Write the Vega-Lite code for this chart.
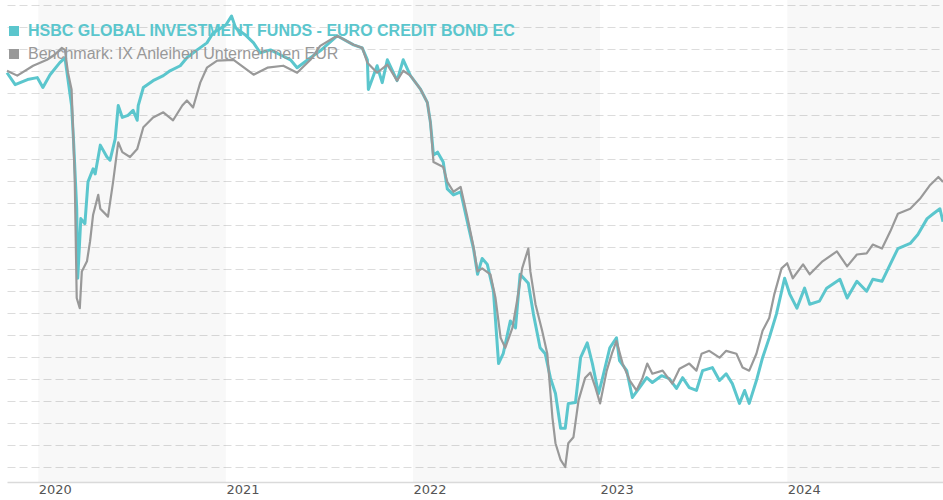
{
  "$schema": "https://vega.github.io/schema/vega-lite/v6.json",
  "width": 936,
  "height": 482,
  "autosize": "none",
  "padding": {"left": 7, "top": 0, "right": 0, "bottom": 18},
  "background": "white",
  "config": {"view": {"stroke": null}},
  "datasets": {
    "bands": [
      {"start": "2020-01-01", "end": "2021-01-01"},
      {"start": "2022-01-01", "end": "2023-01-01"},
      {"start": "2024-01-01", "end": "2024-10-31"}
    ],
    "fund": [
      {"date": "2019-11-01", "value": -0.08},
      {"date": "2019-11-17", "value": -0.62},
      {"date": "2019-12-11", "value": -0.39},
      {"date": "2019-12-30", "value": -0.30},
      {"date": "2020-01-10", "value": -0.75},
      {"date": "2020-01-24", "value": -0.17},
      {"date": "2020-02-12", "value": 0.38},
      {"date": "2020-02-22", "value": 0.60},
      {"date": "2020-02-28", "value": -0.39},
      {"date": "2020-03-06", "value": -1.57},
      {"date": "2020-03-10", "value": -3.24},
      {"date": "2020-03-16", "value": -6.26},
      {"date": "2020-03-18", "value": -9.42},
      {"date": "2020-03-24", "value": -6.71},
      {"date": "2020-04-01", "value": -6.94},
      {"date": "2020-04-07", "value": -5.04},
      {"date": "2020-04-17", "value": -4.45},
      {"date": "2020-04-21", "value": -4.68},
      {"date": "2020-05-01", "value": -3.37},
      {"date": "2020-05-14", "value": -3.91},
      {"date": "2020-05-20", "value": -4.05},
      {"date": "2020-05-30", "value": -3.10},
      {"date": "2020-06-05", "value": -1.57},
      {"date": "2020-06-13", "value": -2.11},
      {"date": "2020-06-24", "value": -2.02},
      {"date": "2020-07-04", "value": -1.79},
      {"date": "2020-07-12", "value": -2.24},
      {"date": "2020-07-14", "value": -1.57},
      {"date": "2020-07-24", "value": -0.75},
      {"date": "2020-08-12", "value": -0.44},
      {"date": "2020-09-01", "value": -0.21},
      {"date": "2020-09-14", "value": 0.01},
      {"date": "2020-10-04", "value": 0.24},
      {"date": "2020-10-17", "value": 0.60},
      {"date": "2020-11-06", "value": 0.96},
      {"date": "2020-11-25", "value": 1.28},
      {"date": "2020-12-07", "value": 1.73},
      {"date": "2021-01-01", "value": 2.09},
      {"date": "2021-01-12", "value": 2.50},
      {"date": "2021-01-20", "value": 1.96},
      {"date": "2021-02-08", "value": 1.64},
      {"date": "2021-02-24", "value": 1.28},
      {"date": "2021-03-09", "value": 0.83},
      {"date": "2021-03-29", "value": 0.96},
      {"date": "2021-04-17", "value": 0.74},
      {"date": "2021-05-07", "value": 0.51},
      {"date": "2021-05-20", "value": 0.15},
      {"date": "2021-06-15", "value": 0.60},
      {"date": "2021-07-04", "value": 0.92},
      {"date": "2021-08-06", "value": 1.60},
      {"date": "2021-09-07", "value": 1.19},
      {"date": "2021-09-24", "value": 1.05},
      {"date": "2021-10-04", "value": 0.51},
      {"date": "2021-10-06", "value": -0.84},
      {"date": "2021-10-23", "value": 0.24},
      {"date": "2021-11-02", "value": -0.53},
      {"date": "2021-11-12", "value": 0.51},
      {"date": "2021-12-01", "value": -0.44},
      {"date": "2021-12-13", "value": 0.51},
      {"date": "2021-12-27", "value": -0.21},
      {"date": "2022-01-16", "value": -0.84},
      {"date": "2022-01-29", "value": -1.43},
      {"date": "2022-02-04", "value": -2.33},
      {"date": "2022-02-10", "value": -3.82},
      {"date": "2022-02-18", "value": -3.69},
      {"date": "2022-03-01", "value": -4.14},
      {"date": "2022-03-09", "value": -5.36},
      {"date": "2022-03-21", "value": -5.63},
      {"date": "2022-04-04", "value": -5.49},
      {"date": "2022-04-17", "value": -6.85},
      {"date": "2022-04-29", "value": -8.07},
      {"date": "2022-05-07", "value": -9.24},
      {"date": "2022-05-16", "value": -8.52},
      {"date": "2022-05-26", "value": -8.79},
      {"date": "2022-06-07", "value": -10.01},
      {"date": "2022-06-17", "value": -13.30},
      {"date": "2022-06-26", "value": -12.85},
      {"date": "2022-07-10", "value": -11.36},
      {"date": "2022-07-20", "value": -11.68},
      {"date": "2022-07-29", "value": -9.24},
      {"date": "2022-08-14", "value": -9.65},
      {"date": "2022-08-24", "value": -11.05},
      {"date": "2022-09-06", "value": -12.58},
      {"date": "2022-09-16", "value": -12.85},
      {"date": "2022-09-26", "value": -13.94},
      {"date": "2022-10-06", "value": -14.66},
      {"date": "2022-10-16", "value": -16.24},
      {"date": "2022-10-25", "value": -16.24},
      {"date": "2022-10-31", "value": -15.11},
      {"date": "2022-11-14", "value": -15.07},
      {"date": "2022-11-24", "value": -13.03},
      {"date": "2022-12-07", "value": -12.36},
      {"date": "2022-12-17", "value": -13.30},
      {"date": "2022-12-29", "value": -14.66},
      {"date": "2023-01-06", "value": -13.94},
      {"date": "2023-01-20", "value": -12.58},
      {"date": "2023-02-02", "value": -12.13},
      {"date": "2023-02-08", "value": -13.17},
      {"date": "2023-02-22", "value": -13.62},
      {"date": "2023-03-05", "value": -14.84},
      {"date": "2023-03-19", "value": -14.39},
      {"date": "2023-04-02", "value": -13.94},
      {"date": "2023-04-13", "value": -14.16},
      {"date": "2023-05-01", "value": -13.85},
      {"date": "2023-05-16", "value": -13.98},
      {"date": "2023-05-30", "value": -14.43},
      {"date": "2023-06-11", "value": -13.94},
      {"date": "2023-06-24", "value": -14.39},
      {"date": "2023-07-08", "value": -14.52},
      {"date": "2023-07-20", "value": -13.62},
      {"date": "2023-08-08", "value": -13.48},
      {"date": "2023-08-22", "value": -14.07},
      {"date": "2023-09-04", "value": -13.76},
      {"date": "2023-09-16", "value": -14.21},
      {"date": "2023-09-30", "value": -15.11},
      {"date": "2023-10-10", "value": -14.52},
      {"date": "2023-10-19", "value": -15.11},
      {"date": "2023-11-02", "value": -14.07},
      {"date": "2023-11-14", "value": -13.03},
      {"date": "2023-11-27", "value": -12.13},
      {"date": "2023-12-11", "value": -11.05},
      {"date": "2023-12-27", "value": -9.42},
      {"date": "2024-01-06", "value": -10.14},
      {"date": "2024-01-20", "value": -10.78},
      {"date": "2024-02-04", "value": -9.87},
      {"date": "2024-02-14", "value": -10.60},
      {"date": "2024-03-04", "value": -10.46},
      {"date": "2024-03-18", "value": -9.87},
      {"date": "2024-04-13", "value": -9.47},
      {"date": "2024-04-27", "value": -10.32},
      {"date": "2024-05-16", "value": -9.56},
      {"date": "2024-06-04", "value": -10.01},
      {"date": "2024-06-16", "value": -9.47},
      {"date": "2024-07-04", "value": -9.56},
      {"date": "2024-07-20", "value": -8.79},
      {"date": "2024-08-04", "value": -8.07},
      {"date": "2024-08-28", "value": -7.84},
      {"date": "2024-09-12", "value": -7.43},
      {"date": "2024-09-30", "value": -6.71},
      {"date": "2024-10-12", "value": -6.49},
      {"date": "2024-10-25", "value": -6.26},
      {"date": "2024-10-31", "value": -6.85}
    ],
    "bench": [
      {"date": "2019-11-01", "value": 0.01},
      {"date": "2019-11-21", "value": -0.21},
      {"date": "2019-12-22", "value": 0.24},
      {"date": "2020-01-18", "value": 0.51},
      {"date": "2020-02-02", "value": 0.74},
      {"date": "2020-02-16", "value": 1.05},
      {"date": "2020-02-22", "value": 0.96},
      {"date": "2020-02-28", "value": -0.08},
      {"date": "2020-03-06", "value": -0.84},
      {"date": "2020-03-12", "value": -4.73},
      {"date": "2020-03-16", "value": -10.32},
      {"date": "2020-03-22", "value": -10.78},
      {"date": "2020-03-26", "value": -9.11},
      {"date": "2020-04-05", "value": -8.65},
      {"date": "2020-04-11", "value": -7.75},
      {"date": "2020-04-17", "value": -6.53},
      {"date": "2020-04-27", "value": -5.63},
      {"date": "2020-05-01", "value": -6.26},
      {"date": "2020-05-16", "value": -6.62},
      {"date": "2020-05-26", "value": -5.04},
      {"date": "2020-06-05", "value": -3.24},
      {"date": "2020-06-13", "value": -3.69},
      {"date": "2020-06-28", "value": -3.91},
      {"date": "2020-07-12", "value": -3.55},
      {"date": "2020-07-24", "value": -2.56},
      {"date": "2020-08-12", "value": -2.11},
      {"date": "2020-09-01", "value": -1.88},
      {"date": "2020-09-20", "value": -2.24},
      {"date": "2020-10-08", "value": -1.57},
      {"date": "2020-10-17", "value": -1.34},
      {"date": "2020-10-29", "value": -1.66},
      {"date": "2020-11-12", "value": -0.53},
      {"date": "2020-11-25", "value": 0.15},
      {"date": "2020-12-15", "value": 0.47},
      {"date": "2021-01-16", "value": 0.51},
      {"date": "2021-02-24", "value": -0.17},
      {"date": "2021-03-23", "value": 0.15},
      {"date": "2021-04-23", "value": 0.24},
      {"date": "2021-05-20", "value": -0.08},
      {"date": "2021-06-15", "value": 0.51},
      {"date": "2021-07-04", "value": 1.14},
      {"date": "2021-08-06", "value": 1.60},
      {"date": "2021-09-07", "value": 1.19},
      {"date": "2021-09-24", "value": 1.05},
      {"date": "2021-10-04", "value": 0.38},
      {"date": "2021-10-23", "value": -0.08},
      {"date": "2021-11-12", "value": 0.29},
      {"date": "2021-12-01", "value": -0.44},
      {"date": "2021-12-13", "value": 0.01},
      {"date": "2021-12-27", "value": -0.21},
      {"date": "2022-01-16", "value": -0.84},
      {"date": "2022-01-29", "value": -1.43},
      {"date": "2022-02-04", "value": -2.33},
      {"date": "2022-02-10", "value": -4.14},
      {"date": "2022-03-01", "value": -4.36},
      {"date": "2022-03-09", "value": -5.04},
      {"date": "2022-03-21", "value": -5.49},
      {"date": "2022-04-04", "value": -5.27},
      {"date": "2022-04-17", "value": -6.62},
      {"date": "2022-04-29", "value": -7.98},
      {"date": "2022-05-07", "value": -9.11},
      {"date": "2022-05-16", "value": -8.97},
      {"date": "2022-06-01", "value": -9.24},
      {"date": "2022-06-11", "value": -10.32},
      {"date": "2022-06-21", "value": -12.13},
      {"date": "2022-06-30", "value": -12.58},
      {"date": "2022-07-14", "value": -11.68},
      {"date": "2022-07-24", "value": -10.32},
      {"date": "2022-08-02", "value": -8.97},
      {"date": "2022-08-14", "value": -8.07},
      {"date": "2022-08-18", "value": -9.11},
      {"date": "2022-08-28", "value": -10.60},
      {"date": "2022-09-10", "value": -11.81},
      {"date": "2022-09-20", "value": -12.85},
      {"date": "2022-09-30", "value": -15.74},
      {"date": "2022-10-06", "value": -16.92},
      {"date": "2022-10-16", "value": -17.68},
      {"date": "2022-10-25", "value": -18.00},
      {"date": "2022-10-31", "value": -16.92},
      {"date": "2022-11-10", "value": -16.65},
      {"date": "2022-11-20", "value": -14.97},
      {"date": "2022-12-03", "value": -13.94},
      {"date": "2022-12-13", "value": -13.71},
      {"date": "2022-12-23", "value": -14.39},
      {"date": "2023-01-01", "value": -15.11},
      {"date": "2023-01-14", "value": -13.62},
      {"date": "2023-01-24", "value": -12.85},
      {"date": "2023-02-02", "value": -12.27},
      {"date": "2023-02-14", "value": -13.30},
      {"date": "2023-02-28", "value": -14.07},
      {"date": "2023-03-13", "value": -14.52},
      {"date": "2023-03-25", "value": -13.94},
      {"date": "2023-04-03", "value": -13.30},
      {"date": "2023-04-13", "value": -13.76},
      {"date": "2023-05-03", "value": -13.62},
      {"date": "2023-05-22", "value": -14.21},
      {"date": "2023-06-05", "value": -13.53},
      {"date": "2023-06-24", "value": -13.30},
      {"date": "2023-07-08", "value": -13.62},
      {"date": "2023-07-18", "value": -12.85},
      {"date": "2023-08-02", "value": -12.72},
      {"date": "2023-08-22", "value": -13.03},
      {"date": "2023-09-04", "value": -12.72},
      {"date": "2023-09-24", "value": -12.85},
      {"date": "2023-10-06", "value": -13.48},
      {"date": "2023-10-19", "value": -13.62},
      {"date": "2023-11-02", "value": -12.85},
      {"date": "2023-11-14", "value": -11.81},
      {"date": "2023-11-27", "value": -11.23},
      {"date": "2023-12-07", "value": -10.14},
      {"date": "2023-12-21", "value": -8.97},
      {"date": "2024-01-01", "value": -8.74},
      {"date": "2024-01-12", "value": -9.42},
      {"date": "2024-02-01", "value": -8.79},
      {"date": "2024-02-14", "value": -9.24},
      {"date": "2024-03-10", "value": -8.65},
      {"date": "2024-04-07", "value": -8.20},
      {"date": "2024-04-27", "value": -8.88},
      {"date": "2024-05-16", "value": -8.34},
      {"date": "2024-06-04", "value": -8.29},
      {"date": "2024-06-16", "value": -7.89},
      {"date": "2024-07-04", "value": -8.07},
      {"date": "2024-07-20", "value": -7.30},
      {"date": "2024-08-04", "value": -6.49},
      {"date": "2024-08-28", "value": -6.26},
      {"date": "2024-09-16", "value": -5.81},
      {"date": "2024-10-06", "value": -5.18},
      {"date": "2024-10-22", "value": -4.82},
      {"date": "2024-10-31", "value": -5.04}
    ]
  },
  "layer": [
    {
      "data": {"name": "bands"},
      "mark": {"type": "rect", "color": "#000000", "opacity": 0.026, "clip": true},
      "encoding": {
        "x": {"field": "start", "type": "temporal"},
        "x2": {"field": "end"}
      }
    },
    {
      "data": {"name": "fund"},
      "mark": {"type": "line", "strokeWidth": 3, "strokeJoin": "round"},
      "encoding": {
        "x": {
          "field": "date",
          "type": "temporal",
          "scale": {
            "type": "utc",
            "domain": [
              {"year": 2019, "month": 11, "date": 1, "utc": true},
              {"year": 2024, "month": 10, "date": 31, "utc": true}
            ]
          },
          "axis": {
            "title": null,
            "values": [
              {"year": 2020, "month": 1, "date": 1, "utc": true},
              {"year": 2021, "month": 1, "date": 1, "utc": true},
              {"year": 2022, "month": 1, "date": 1, "utc": true},
              {"year": 2023, "month": 1, "date": 1, "utc": true},
              {"year": 2024, "month": 1, "date": 1, "utc": true}
            ],
            "tickCount": 20,
            "format": "%Y",
            "ticks": false,
            "grid": false,
            "labelAlign": "left",
            "labelBaseline": "top",
            "labelPadding": 1,
            "labelFont": "DejaVu Sans",
            "labelFontSize": 13,
            "labelColor": "#555555",
            "labelFlush": false,
            "labelOverlap": false,
            "domainColor": "#dadada",
            "domainWidth": 1.5
          }
        },
        "y": {
          "field": "value",
          "type": "quantitative",
          "scale": {"domain": [-18.6818, 3.2273], "nice": false, "zero": false},
          "axis": {
            "title": null,
            "values": [-18, -17, -16, -15, -14, -13, -12, -11, -10, -9, -8, -7, -6, -5, -4, -3, -2, -1, 0, 1, 2, 3],
            "tickCount": 40,
            "labels": false,
            "ticks": false,
            "domain": false,
            "grid": true,
            "gridColor": "#dcdcdc",
            "gridDash": [8, 4],
            "gridWidth": 1
          }
        },
        "color": {
          "datum": "HSBC GLOBAL INVESTMENT FUNDS - EURO CREDIT BOND EC",
          "type": "nominal",
          "scale": {
            "domain": ["HSBC GLOBAL INVESTMENT FUNDS - EURO CREDIT BOND EC", "Benchmark: IX Anleihen Unternehmen EUR"],
            "range": ["#5bc6cd", "#999999"]
          },
          "legend": {
            "title": null,
            "orient": "none",
            "legendX": -1,
            "legendY": 23,
            "padding": 0,
            "symbolType": "square",
            "symbolSize": 100,
            "symbolStrokeWidth": 0,
            "labelFont": "Liberation Sans",
            "labelFontSize": 16,
            "labelOffset": 6,
            "labelLimit": 1000,
            "rowPadding": 7,
            "encode": {
              "symbols": {
                "update": {
                  "fill": {"signal": "datum.index === 0 ? '#5bc6cd' : '#999999'"},
                  "stroke": {"value": "transparent"},
                  "opacity": {"value": 1}
                }
              },
              "labels": {
                "update": {
                  "fill": {"signal": "datum.index === 0 ? '#5bc6cd' : '#999999'"},
                  "fontWeight": {"signal": "datum.index === 0 ? 'bold' : 'normal'"}
                }
              }
            }
          }
        }
      }
    },
    {
      "data": {"name": "bench"},
      "mark": {"type": "line", "strokeWidth": 2.2, "strokeJoin": "round"},
      "encoding": {
        "x": {"field": "date", "type": "temporal"},
        "y": {"field": "value", "type": "quantitative"},
        "color": {"datum": "Benchmark: IX Anleihen Unternehmen EUR", "type": "nominal"}
      }
    }
  ]
}
